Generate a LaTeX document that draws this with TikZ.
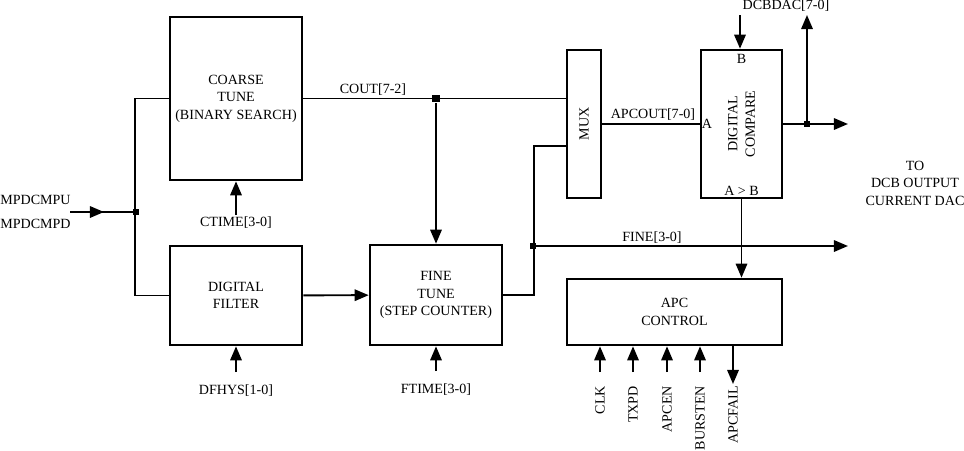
\documentclass[tikz,border=0pt]{standalone}
\usepackage{fontspec}
\setmainfont{Liberation Serif}
\usetikzlibrary{arrows.meta}

\begin{document}
\begin{tikzpicture}[
  x=0.02cm, y=-0.02cm,
  font=\fontsize{8}{10}\selectfont,
  blk/.style={draw, line width=1.5pt, inner sep=0pt, align=center},
  wire/.style={line width=1.1pt},
  arr/.style={wire, -{Triangle[length=8pt, width=6.5pt]}},
  sig/.style={inner sep=1pt},
  dot/.style={fill=black, inner sep=0pt, minimum size=3.5pt},
]
  \useasboundingbox (0,0) rectangle (964,450);

  % Blocks
  \node[blk, minimum width=2.64cm, minimum height=3.26cm] (coarse) at (236,98.5) {COARSE\\TUNE\\(BINARY SEARCH)};
  \node[blk, minimum width=2.64cm, minimum height=1.98cm] (filter) at (236,295.5) {DIGITAL\\FILTER};
  \node[blk, minimum width=2.64cm, minimum height=2.0cm] (fine) at (436,295) {FINE\\TUNE\\(STEP COUNTER)};
  \node[blk, minimum width=0.68cm, minimum height=2.96cm] (mux) at (584,124) {};
  \node[rotate=90] (muxtxt) at (mux) {MUX};
  \node[blk, minimum width=1.62cm, minimum height=2.96cm] (cmp) at (741.5,124) {};
  \node[rotate=90, align=center] (cmptxt) at (cmp) {DIGITAL\\COMPARE};
  \node[anchor=west, inner sep=1pt] (pa) at (cmp.west) {A};
  \node[anchor=north, inner sep=3pt] (pb) at (cmp.north) {B};
  \node[anchor=south, inner sep=2pt] (pab) at (cmp.south) {A > B};
  \node[blk, minimum width=4.3cm, minimum height=1.32cm] (apc) at (674.5,312) {APC\\CONTROL};

  % Inputs on the left
  \node[sig, anchor=west, inner sep=0pt] (up) at (0,200) {MPDCMPU};
  \node[sig, anchor=west, inner sep=0pt] (dn) at (0,224) {MPDCMPD};
  \coordinate (in) at (70,212);
  \coordinate (intip) at (104,212);
  \node[dot] (j1) at (136,212) {};
  \draw[arr] (in) -- (intip);
  \draw[wire] (in) -- (j1);
  \draw[wire] (coarse.west) -- ++(-34,0) |- (filter.west);

  % Timing inputs
  \node[sig] (ctime) at (236,223) {CTIME[3-0]};
  \draw[arr] (ctime) -- (coarse);
  \node[sig] (dfhys) at (236,391) {DFHYS[1-0]};
  \draw[arr, shorten <=0.22cm] (dfhys) -- (filter);
  \node[sig] (ftime) at (436,390) {FTIME[3-0]};
  \draw[arr, shorten <=0.22cm] (ftime) -- (fine);

  % Coarse path
  \draw[wire] (coarse.east) -- (mux.west |- coarse.east);
  \node[sig, anchor=south] (cout) at (373,97) {COUT[7-2]};
  \node[dot, minimum size=4.5pt] (j2) at (fine.north |- coarse.east) {};
  \draw[arr] (j2) -- (fine);
  \draw[arr] (filter) -- (fine);

  % Fine path
  \coordinate (muxin) at ([yshift=-0.44cm]mux.west);
  \draw[wire] (fine.east) -- ++(31,0) |- (muxin);
  \node[dot] (j3) at (533,246) {};
  \coordinate (fineout) at (848,246);
  \draw[arr] (j3) -- (fineout);
  \node[sig, anchor=south] (finelbl) at (652,245) {FINE[3-0]};

  % Compare
  \draw[wire] (mux.east |- cmp.west) -- (cmp.west);
  \node[sig, anchor=south] (apcout) at (653,122) {APCOUT[7-0]};
  \node[sig] (dcb) at (786,6) {DCBDAC[7-0]};
  \coordinate (dcbin) at (740,15);
  \draw[arr] (dcbin) -- (dcbin |- cmp.north);
  \coordinate (out) at (848,124);
  \draw[arr] (cmp.east) -- (out);
  \node[dot] (j4) at (807,124) {};
  \draw[arr] (j4) -- (j4 |- dcbin);
  \draw[arr] (cmp.south) -- (cmp.south |- apc.north);
  \node[align=center] (dac) at (915,183) {TO\\DCB OUTPUT\\CURRENT DAC};

  % APC control pins
  \foreach \x/\sg in {600/CLK, 633/TXPD, 667/APCEN, 700/BURSTEN} {
    \node[sig, rotate=90, anchor=east] (\sg) at (\x,384) {\sg};
    \draw[arr, shorten <=0.24cm] (\sg.east) -- (\sg.east |- apc.south);
  }
  \node[sig, rotate=90, anchor=east] (APCFAIL) at (733,384) {APCFAIL};
  \draw[arr] (APCFAIL.east |- apc.south) -- (APCFAIL.east);
\end{tikzpicture}
\end{document}
